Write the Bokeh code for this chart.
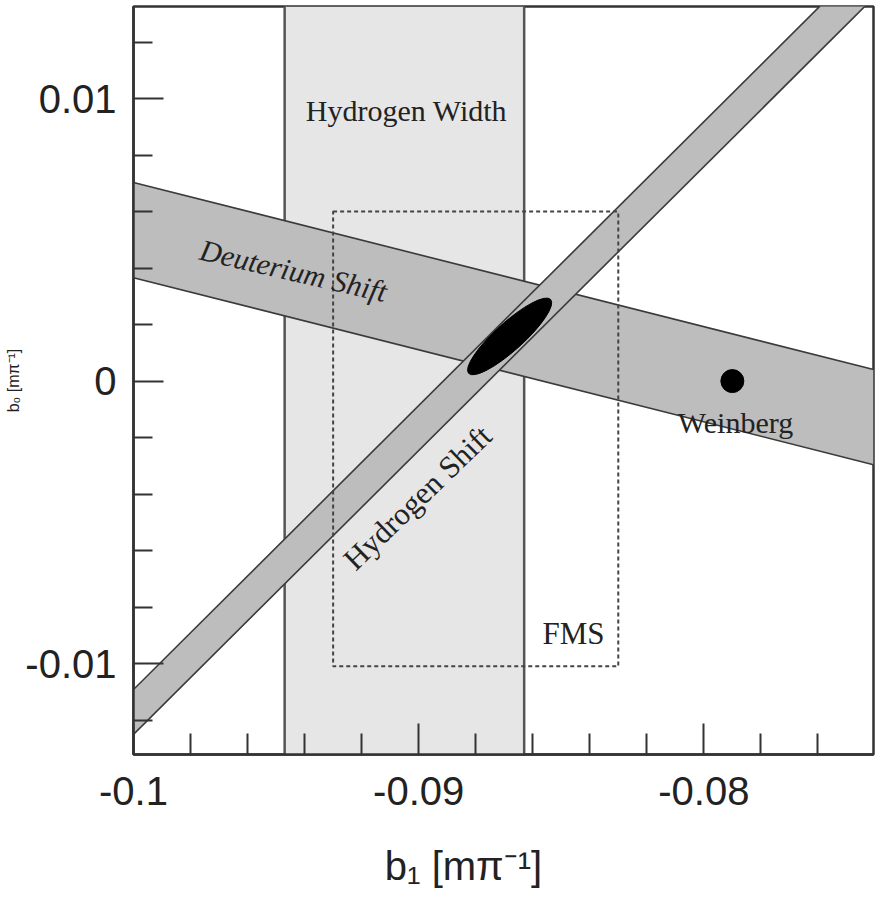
from bokeh.plotting import figure
from bokeh.models import FixedTicker, Label, BoxAnnotation, Span
from bokeh.embed import file_html
from bokeh.resources import INLINE
import math

# ---------------- data ----------------
b1_range = (-0.1, -0.07405)
b0_range = (-0.01322, 0.01326)

b1_major = [-0.1, -0.09, -0.08]
b1_major_labels = ["-0.1", "-0.09", "-0.08"]
b1_minor = [-0.098, -0.096, -0.094, -0.092, -0.088, -0.086, -0.084, -0.082, -0.078, -0.076]
b0_major = [-0.01, 0.0, 0.01]
b0_major_labels = ["-0.01", "0", "0.01"]
b0_minor = [-0.012, -0.008, -0.006, -0.004, -0.002, 0.002, 0.004, 0.006, 0.008, 0.012]

x_title = "b\u2081 [m\u03c0\u207b\u00b9]"
y_title = "b\u2080 [m\u03c0\u207b\u00b9]"

# Hydrogen width band (b1 interval)
hwidth_b1 = [-0.0947, -0.0863]

# Deuterium shift band: edges at the two ends of the b1 range
deut_b1 = [-0.1, -0.07405]
deut_upper = [0.00703, 0.00041]
deut_lower = [0.00366, -0.00296]

# Hydrogen shift band
hshift_b1 = [-0.1, -0.074]
hshift_upper = [-0.01092, 0.01521]
hshift_lower = [-0.01251, 0.01362]

# combined result (ellipse)
ell_b1 = [-0.08681]
ell_b0 = [0.00158]
ell_w = [0.00387]
ell_h = [0.00099]
ell_angle_deg = [42]

# FMS box
fms_b1 = [-0.093, -0.083]
fms_b0 = [-0.0101, 0.006]

# Weinberg point
weinberg_b1 = [-0.079]
weinberg_b0 = [0.0]

# ---------------- figure ----------------
W, H = 889, 907
p = figure(width=W, height=H, output_backend="svg", toolbar_location=None,
           x_range=b1_range, y_range=b0_range,
           min_border_left=133, min_border_right=16, min_border_top=6, min_border_bottom=153)
p.background_fill_color = "white"
p.border_fill_color = "white"
p.xgrid.visible = False
p.ygrid.visible = False
p.outline_line_color = "#333333"
p.outline_line_width = 2.5

for ax, major, minor, labels in ((p.xaxis[0], b1_major, b1_minor, b1_major_labels),
                                  (p.yaxis[0], b0_major, b0_minor, b0_major_labels)):
    ax.ticker = FixedTicker(ticks=major, minor_ticks=minor)
    ax.major_label_overrides = {v: s for v, s in zip(major, labels)}
    ax.axis_line_color = "#333333"
    ax.axis_line_width = 2.5
    ax.major_tick_line_color = "#333333"
    ax.major_tick_line_width = 2
    ax.minor_tick_line_color = "#333333"
    ax.minor_tick_line_width = 2
    ax.major_tick_out = 0
    ax.minor_tick_out = 0
    ax.major_label_text_font = "Liberation Sans"
    ax.major_label_text_font_size = "40px"
    ax.major_label_text_font_style = "normal"
    ax.major_label_text_color = "#222222"
    ax.axis_label_text_font = "Liberation Sans"
    ax.axis_label_text_font_style = "normal"
    ax.axis_label_text_color = "#222222"

p.xaxis.major_tick_in = 31
p.xaxis.minor_tick_in = 21
p.yaxis.major_tick_in = 30
p.yaxis.minor_tick_in = 19
p.xaxis.major_label_standoff = 22
p.yaxis.major_label_standoff = 17

# trailing em spaces nudge the centred title to the left, as in the reference
p.xaxis.axis_label = x_title + "\u2003\u2003"
p.xaxis.axis_label_text_font_size = "40px"
p.xaxis.axis_label_standoff = 36
p.yaxis.axis_label = y_title
p.yaxis.axis_label_text_font_size = "16px"
p.yaxis.axis_label_standoff = 0

# Hydrogen width band
hw_box = BoxAnnotation(left=hwidth_b1[0], right=hwidth_b1[1], fill_color="#e6e6e6",
                       fill_alpha=1.0, line_color=None, level="underlay")
p.add_layout(hw_box)
for xv in hwidth_b1:
    p.add_layout(Span(location=xv, dimension="height", line_color="#555555",
                      line_width=2.5, level="underlay"))

edge_col = "#3a3a3a"
band_col = "#bdbdbd"

# Deuterium shift band
p.varea(x=deut_b1, y1=deut_lower, y2=deut_upper, fill_color=band_col)
p.line(deut_b1, deut_upper, line_color=edge_col, line_width=1.6)
p.line(deut_b1, deut_lower, line_color=edge_col, line_width=1.6)

# Hydrogen shift band
p.varea(x=hshift_b1, y1=hshift_lower, y2=hshift_upper, fill_color=band_col)
p.line(hshift_b1, hshift_upper, line_color=edge_col, line_width=1.6)
p.line(hshift_b1, hshift_lower, line_color=edge_col, line_width=1.6)

# ellipse
p.ellipse(x=ell_b1, y=ell_b0, width=ell_w, height=ell_h,
          angle=[math.radians(a) for a in ell_angle_deg],
          fill_color="black", line_color="black")

# FMS box
p.quad(left=[fms_b1[0]], right=[fms_b1[1]], bottom=[fms_b0[0]], top=[fms_b0[1]],
       fill_color=None, line_color="#444444", line_width=2, line_dash="4 3")

# Weinberg point
p.scatter(weinberg_b1, weinberg_b0, size=23, marker="circle", fill_color="black", line_color="black")

# ---------------- text inside the frame ----------------
sx = (b1_range[1] - b1_range[0]) / 740.0
sy = (b0_range[1] - b0_range[0]) / 748.0
def px2x(px):
    return b1_range[0] + (px - 133) * sx
def px2y(py):
    return b0_range[1] - (py - 6) * sy

serif = "Liberation Serif"
def add_text(txt, px, py, size, angle=0.0, style="normal"):
    p.add_layout(Label(x=px2x(px), y=px2y(py), text=txt, text_font=serif,
                       text_font_size=f"{size}px", text_font_style=style,
                       text_color="#222222", text_align="center", text_baseline="middle",
                       angle=math.radians(angle)))

add_text("Hydrogen Width", 406, 110, 30)
add_text("Deuterium Shift", 293, 270, 30, angle=-13, style="italic")
add_text("Hydrogen Shift", 417, 497, 31, angle=44)
add_text("FMS", 573, 633, 31)
add_text("Weinberg", 735, 422, 30)

open("out.html", "w").write(file_html(p, INLINE))
